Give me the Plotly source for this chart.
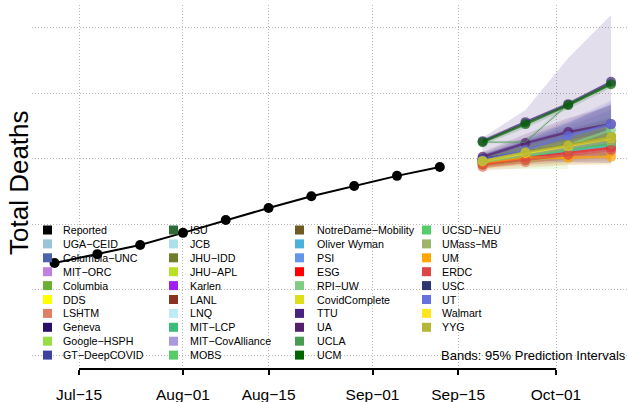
import plotly.graph_objects as go

# ---------------- data ----------------
REPORTED_DATES = ["2020-07-11", "2020-07-18", "2020-07-25", "2020-08-01", "2020-08-08",
                  "2020-08-15", "2020-08-22", "2020-08-29", "2020-09-05", "2020-09-12"]
REPORTED_DEATHS = [6810, 7080, 7360, 7730, 8120, 8490, 8850, 9160, 9470, 9740]

FORECAST_DATES = ["2020-09-19", "2020-09-26", "2020-10-03", "2020-10-10"]

MODEL_NAMES = ["UGA−CEID", "Columbia−UNC", "MIT−ORC", "Columbia", "DDS", "LSHTM", "Geneva",
               "Google−HSPH", "GT−DeepCOVID", "ISU", "JCB", "JHU−IDD", "JHU−APL", "Karlen",
               "LANL", "LNQ", "MIT−LCP", "MIT−CovAlliance", "MOBS", "NotreDame−Mobility",
               "Oliver Wyman", "PSI", "ESG", "RPI−UW", "CovidComplete", "TTU", "UA", "UCLA",
               "UCM", "UCSD−NEU", "UMass−MB", "UM", "ERDC", "USC", "UT", "Walmart", "YYG"]

MODEL_COLORS = ["#99C5D6", "#4F64A8", "#C080E0", "#6BAE36", "#FFFF00", "#E07F66", "#2A0F66",
                "#96DE41", "#3E429F", "#2E6B36", "#ADDFED", "#6E7E2D", "#BADF26", "#A020F0",
                "#8B3322", "#BEEBF9", "#3BBC7A", "#A89ADB", "#57CB68", "#6F5A24",
                "#4AB1DD", "#6495ED", "#FF0000", "#7FCD85", "#DEDE1A", "#46237E", "#561F6B", "#489B50",
                "#006400", "#55CB6A", "#9BB56C", "#FFA500", "#DB4545", "#2E3570", "#6670E0", "#FFE61C", "#B4B735"]

MEDIAN = [
    [9860, 10050, 10230, 10380], [9950, 10170, 10350, 10530], [9890, 10080, 10260, 10410],
    [9920, 10170, 10410, 10660], [9860, 10080, 10260, 10410], [9740, 9890, 10050, 10200],
    [9980, 10200, 10380, 10560], [9800, 9950, 10080, None], [9950, 10170, 10380, 10560],
    [9920, 10140, 10350, 10560], [9860, 10020, 10140, 10260], [9920, 10170, 10410, 10660],
    [9860, 10110, 10290, 10470], [9890, 10110, 10290, 10440], [9890, 10080, 10260, 10440],
    [9860, 10020, 10170, 10320], [9890, 10080, 10260, 10410], [9950, 10170, 10380, 10530],
    [9920, 10140, 10350, 10560], [9890, 10110, 10320, 10500], [9860, 10050, 10230, 10380],
    [9920, 10140, 10320, 10500], [9830, 10020, 10170, 10320], [9890, 10110, 10410, 10870],
    [9890, 10170, 10410, 10630], [10530, 11110, 11660, 12340], [10050, 10470, 10810, 11050],
    [10500, 10500, 11660, 12270], [10500, 11050, 11630, 12270], [9890, 10080, 10260, 10440],
    [9890, 10110, 10320, 10530], [9830, 10020, 10020, 10050], [9800, 9950, 10110, 10260],
    [9980, 10200, 10410, 10600], [9950, 10260, 10690, 11050], [9920, 10170, 10380, 10600],
    [9920, 10200, 10410, 10660]]

UPPER = [
    [10020, 10320, 10630, 10930], [10110, 10530, 10990, 11480], [10020, 10320, 10630, 10930],
    [10080, 10410, 10780, 11150], [9950, 10230, 10500, 10780], [9860, 10110, 10350, 10600],
    [10140, 10530, 10900, 11240], [9920, 10170, 10380, None], [10110, 10560, 11050, 11660],
    [10050, 10350, 10660, 10960], [9980, 10230, 10440, 10660], [10080, 10440, 10810, 11180],
    [9950, 10290, 10600, 10900], [9980, 10260, 10500, 10750], [10020, 10290, 10560, 10840],
    [9980, 10230, 10440, 10660], [10020, 10290, 10530, 10780], [10110, 10630, 11180, 11790],
    [10050, 10350, 10660, 10960], [10020, 10320, 10600, 10870], [9980, 10260, 10500, 10750],
    [10080, 10440, 10780, 11110], [9920, 10170, 10380, 10600], [10020, 10380, 10780, 11330],
    [9980, 10380, 10690, 10990], [10630, 11480, 13070, 14380], [10200, 10750, 11240, 11600],
    [10530, 10560, 11730, 12340], [10600, 11150, 11730, 12370], [10020, 10290, 10530, 10780],
    [10020, 10320, 10600, 10870], [9860, 10080, 10230, 10290], [9890, 10140, 10350, 10560],
    [10170, 10630, 11110, 11660], [10110, 10560, 11110, 11730], [9950, 10290, 10560, 10840],
    [10020, 10380, 10660, 11020]]

LOWER = [
    [9740, 9830, 9860, 9860], [9830, 9950, 10080, 10200], [9800, 9950, 10080, 10140],
    [9800, 9950, 10080, 10170], [9740, 9860, 9980, 10080], [9620, 9710, 9800, 9860],
    [9890, 10050, 10230, 10380], [9680, 9680, 9680, None], [9830, 9950, 10080, 10200],
    [9800, 9920, 10050, 10170], [9740, 9830, 9890, 9950], [9800, 9920, 10050, 10170],
    [9740, 9890, 10020, 10110], [9800, 9950, 10140, 10320], [9770, 9890, 10020, 10110],
    [9740, 9800, 9830, 9860], [9800, 9920, 10050, 10140], [9830, 9950, 10080, 10200],
    [9830, 9950, 10080, 10200], [9800, 9920, 10050, 10140], [9770, 9860, 9950, 10020],
    [9800, 9920, 10050, 10170], [9740, 9860, 9980, 10080], [9800, 9920, 10110, 10350],
    [9770, 9950, 10110, 10260], [10020, 9950, 9890, 9860], [9920, 10200, 10440, 10560],
    [10470, 10440, 11600, 12210], [10410, 10930, 11510, 12150], [9800, 9920, 10050, 10140],
    [9800, 9920, 10050, 10140], [9680, 9770, 9800, 9800], [9710, 9800, 9890, 9950],
    [9890, 10020, 10140, 10260], [9830, 10020, 10260, 10440], [9770, 9920, 10110, 10260],
    [9800, 9950, 10110, 10320]]

THIN_LINE_MODELS = ["UCLA"]

TICK_DATES = ["2020-07-15", "2020-08-01", "2020-08-15", "2020-09-01", "2020-09-15", "2020-10-01"]
TICK_LABELS = ["Jul−15", "Aug−01", "Aug−15", "Sep−01", "Sep−15", "Oct−01"]
GRID_Y = [4000, 6000, 8000, 10000, 12000, 14000]

# ---------------- styling ----------------
W, H = 628, 402
ML, MR, MT, MB = 32, 0, 5, 33
PW, PH = W - ML - MR, H - MT - MB
FONT = "Liberation Sans, Arial, Helvetica, sans-serif"


def rgba(hexc, a):
    h = hexc.lstrip("#")
    r, g, b = int(h[0:2], 16), int(h[2:4], 16), int(h[4:6], 16)
    return f"rgba({r},{g},{b},{a})"


def px_x(p):
    return (p - ML) / PW


def px_y(p):
    return (H - MB - p) / PH


fig = go.Figure()

# bands
for name, col, lo, up in zip(MODEL_NAMES, MODEL_COLORS, LOWER, UPPER):
    xs = [d for d, v in zip(FORECAST_DATES, up) if v is not None]
    ups = [v for v in up if v is not None]
    los = [v for v in lo if v is not None]
    fig.add_trace(go.Scatter(
        x=xs + xs[::-1], y=ups + los[::-1], fill="toself", mode="lines",
        line=dict(width=0), fillcolor=rgba(col, 0.15), hoverinfo="skip", showlegend=False))

# reported
fig.add_trace(go.Scatter(
    x=REPORTED_DATES, y=REPORTED_DEATHS, mode="lines+markers",
    line=dict(color="black", width=2), marker=dict(color="black", size=10, line=dict(width=0)),
    name="Reported", showlegend=False))

# medians
for name, col, med in zip(MODEL_NAMES, MODEL_COLORS, MEDIAN):
    xs = [d for d, v in zip(FORECAST_DATES, med) if v is not None]
    ys = [v for v in med if v is not None]
    if name in THIN_LINE_MODELS:
        fig.add_trace(go.Scatter(x=xs, y=ys, mode="lines", line=dict(color=rgba(col, 0.8), width=1),
                                 name=name, showlegend=False))
    else:
        fig.add_trace(go.Scatter(
            x=xs, y=ys, mode="lines+markers",
            line=dict(color=rgba(col, 0.7), width=2.5),
            marker=dict(color=rgba(col, 0.7), size=10, line=dict(width=0)),
            name=name, showlegend=False))

# axis line like base R (first to last tick)
shapes = [dict(type="line", xref="x", yref="paper", x0=TICK_DATES[0], x1=TICK_DATES[-1],
               y0=0, y1=0, line=dict(color="black", width=2), layer="above")]
annotations = []

# legend (4 columns x 10 rows)
legend_names = ["Reported"] + MODEL_NAMES
legend_colors = ["#000000"] + MODEL_COLORS
col_sq = [43, 169, 295, 422]
col_tx = [61, 188, 315, 440]
row0, drow = 230, 13.9
for i, (nm, c) in enumerate(zip(legend_names, legend_colors)):
    ci, ri = i // 10, i % 10
    yc = row0 + ri * drow
    shapes.append(dict(type="rect", xref="paper", yref="paper",
                       x0=px_x(col_sq[ci]), x1=px_x(col_sq[ci] + 9),
                       y0=px_y(yc + 4.5), y1=px_y(yc - 4.5),
                       fillcolor=c, line=dict(width=0), layer="above"))
    annotations.append(dict(text=nm, xref="paper", yref="paper", x=px_x(col_tx[ci]), y=px_y(yc),
                            xanchor="left", yanchor="middle", showarrow=False,
                            font=dict(family=FONT, size=10.7, color="black")))

annotations.append(dict(text="Bands: 95% Prediction Intervals", xref="paper", yref="paper",
                        x=px_x(628), y=px_y(355), xanchor="right", yanchor="middle",
                        showarrow=False, font=dict(family=FONT, size=13, color="black")))
annotations.append(dict(text="Total Deaths", xref="paper", yref="paper", x=px_x(19), y=px_y(183),
                        xanchor="center", yanchor="middle", textangle=-90, showarrow=False,
                        font=dict(family=FONT, size=26, color="black")))

fig.update_layout(
    width=W, height=H, margin=dict(l=ML, r=MR, t=MT, b=MB),
    paper_bgcolor="white", plot_bgcolor="white",
    font=dict(family=FONT, color="black"),
    shapes=shapes, annotations=annotations, showlegend=False,
    xaxis=dict(type="date", range=["2020-07-07 07:32", "2020-10-12 18:35"],
               tickvals=TICK_DATES, ticktext=TICK_LABELS,
               showgrid=True, gridcolor="#B8B8B8", griddash="1px,2px", gridwidth=1,
               ticks="outside", ticklen=5, tickwidth=2, tickcolor="black",
               showline=False, zeroline=False, ticklabelstandoff=6,
               tickfont=dict(family=FONT, size=15.5, color="black")),
    yaxis=dict(range=[3573, 14687], tickvals=GRID_Y, showticklabels=False,
               showgrid=True, gridcolor="#B8B8B8", griddash="1px,2px", gridwidth=1,
               ticks="", showline=False, zeroline=False),
)

fig.write_html("out.html", config={"displayModeBar": False},
               post_script="document.body.style.margin='0';document.body.style.padding='0';"
                           "document.body.style.overflow='hidden';")
